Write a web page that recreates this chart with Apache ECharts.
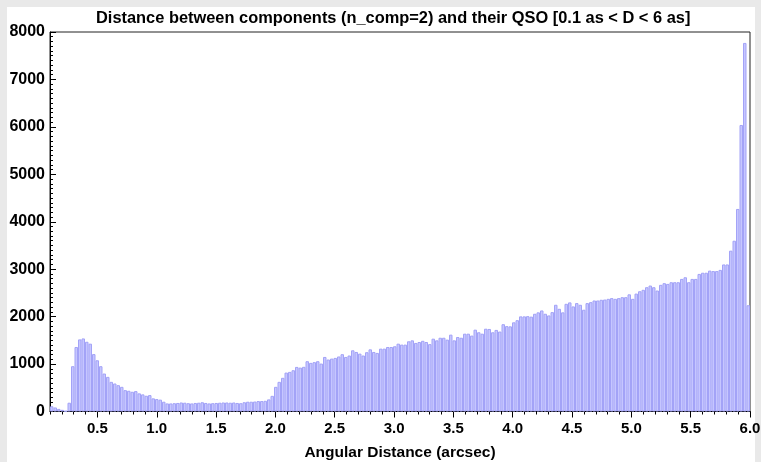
<!DOCTYPE html>
<html><head><meta charset="utf-8">
<script src="https://cdn.jsdelivr.net/npm/echarts@6/dist/echarts.min.js"></script>
<style>html,body{margin:0;padding:0;background:#e9e9e9}#c{width:761px;height:462px}</style>
</head><body><div id="c"></div>
<script>
const titleText = 'Distance between components (n_comp=2) and their QSO [0.1 as < D < 6 as]';
const xAxisName = 'Angular Distance (arcsec)';
const binStart = 0.1;
const binEnd = 6.0;
const counts = [
  110,85,55,35,10,185,955,1360,1520,1540,1470,1430,1210,1080,955,800,730,625,590,555,
  520,450,437,416,430,382,361,332,346,277,262,250,206,170,
  170,175,180,190,185,175,170,180,185,195,180,170,175,180,185,190,190,185,190,180,175,
  195,206,206,210,220,220,225,255,330,520,625,710,820,835,870,940,925,
  942,1060,1025,1040,1060,1010,1150,1095,1115,1130,1160,1208,1150,1180,1290,1255,1220,1180,1250,1310,
  1255,1235,1325,1325,1360,1360,1375,1430,1410,1410,1480,1500,1445,1465,1490,1465,1420,1535,1500,1555,
  1555,1515,1620,1500,1570,1555,1640,1640,1600,1725,1670,1640,1745,1740,1670,1720,1685,1840,1800,1795,
  1880,1925,2005,2005,2010,2000,
  2060,2090,2130,2060,2025,2095,2250,2165,2090,2270,2300,2215,2285,2250,2145,2285,2305,2340,2340,2355,
  2360,2375,2390,2375,2390,2410,2410,2470,2375,2485,2535,2565,
  2620,2655,2620,2550,2670,2705,2690,2725,2725,2725,2795,2830,2725,2795,2795,2900,2925,2925,2970,2960,
  2960,2985,3100,3100,3390,3600,4270,6040,7770,2240
];
const xMajorTicks = [0.5,1.0,1.5,2.0,2.5,3.0,3.5,4.0,4.5,5.0,5.5,6.0];
const yMin = 0, yMax = 8000, yStep = 1000;

const binWidth = (binEnd - binStart) / counts.length;
const seriesData = counts.map((c, i) => [binStart + (i + 0.5) * binWidth, c]);

const font = 'Liberation Sans, Arial, sans-serif';
const chart = echarts.init(document.getElementById('c'), null, {renderer: 'canvas'});
chart.setOption({
  animation: false,
  backgroundColor: '#e9e9e9',
  graphic: [{type: 'rect', z: -100, silent: true, shape: {x: 7, y: 7, width: 748, height: 460}, style: {fill: '#ffffff'}}],
  title: {text: titleText, left: 96, top: 10, padding: 0,
    textStyle: {fontFamily: font, fontSize: 16.4, fontWeight: 'bold', color: '#000'}},
  grid: {left: 50, right: 11, top: 32, bottom: 50.5, show: true, borderColor: '#222', borderWidth: 1,
    backgroundColor: 'transparent', containLabel: false, outerBoundsMode: 'none'},
  xAxis: [{
    type: 'value', min: binStart, max: binEnd, interval: 0.1,
    axisLine: {lineStyle: {color: '#000', width: 1}},
    axisTick: {length: 3, lineStyle: {color: '#000'}},
    axisLabel: {
      fontFamily: font, fontSize: 15, fontWeight: 'bold', color: '#000', margin: 10,
      formatter: v => (Math.abs(v * 2 - Math.round(v * 2)) < 1e-6) ? v.toFixed(1) : ''
    },
    splitLine: {show: false},
    name: xAxisName, nameLocation: 'middle', nameGap: 33,
    nameTextStyle: {fontFamily: font, fontSize: 15.5, fontWeight: 'bold', color: '#000'}
  }, {
    type: 'value', min: binStart, max: binEnd, position: 'bottom',
    axisLine: {show: false},
    axisTick: {show: true, customValues: xMajorTicks, length: 6, lineStyle: {color: '#000'}},
    axisLabel: {show: false},
    splitLine: {show: false}
  }],
  yAxis: {
    type: 'value', min: yMin, max: yMax, interval: yStep,
    axisLine: {show: true, lineStyle: {color: '#000'}},
    axisTick: {show: true, inside: true, length: 6, lineStyle: {color: '#000'}},
    minorTick: {show: true, splitNumber: 10, length: 3, lineStyle: {color: '#000'}},
    axisLabel: {fontFamily: font, fontSize: 16, fontWeight: 'bold', color: '#000', margin: 5,
      formatter: v => String(v)},
    splitLine: {show: false}
  },
  series: [{
    type: 'bar', xAxisIndex: 0, data: seriesData, barWidth: 3.5,
    itemStyle: {color: '#c6c6ff', borderColor: '#a3a3f7', borderWidth: 1}
  }]
});
</script></body></html>
